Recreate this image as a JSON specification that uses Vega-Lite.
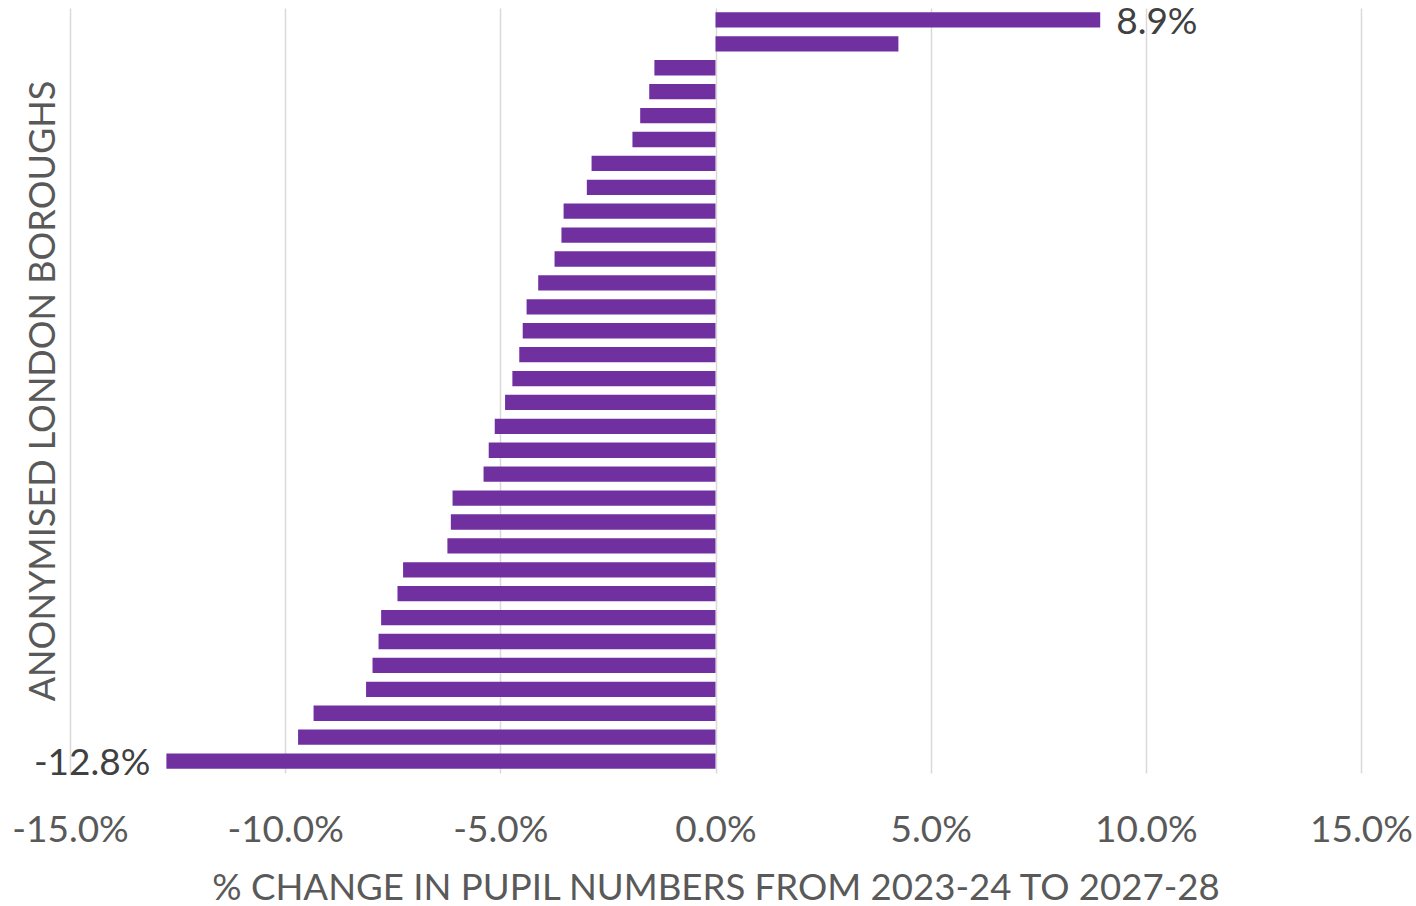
{
  "$schema": "https://vega.github.io/schema/vega-lite/v6.json",
  "width": 1291,
  "height": 765,
  "autosize": {"type": "none"},
  "padding": {"left": 70, "top": 8, "right": 55, "bottom": 133},
  "background": "white",
  "config": {
    "view": {"stroke": null},
    "font": "Lato",
    "locale": {"number": {"decimal": ".", "thousands": ",", "grouping": [3], "currency": ["$", ""], "minus": "-"}}
  },
  "data": {
    "values": [
      {"borough": "B01", "change": 0.0894},
      {"borough": "B02", "change": 0.0425},
      {"borough": "B03", "change": -0.0142},
      {"borough": "B04", "change": -0.0154},
      {"borough": "B05", "change": -0.0175},
      {"borough": "B06", "change": -0.0193},
      {"borough": "B07", "change": -0.0288},
      {"borough": "B08", "change": -0.0299},
      {"borough": "B09", "change": -0.0353},
      {"borough": "B10", "change": -0.0358},
      {"borough": "B11", "change": -0.0374},
      {"borough": "B12", "change": -0.0412},
      {"borough": "B13", "change": -0.0439},
      {"borough": "B14", "change": -0.0448},
      {"borough": "B15", "change": -0.0456},
      {"borough": "B16", "change": -0.0472},
      {"borough": "B17", "change": -0.0489},
      {"borough": "B18", "change": -0.0513},
      {"borough": "B19", "change": -0.0527},
      {"borough": "B20", "change": -0.0539},
      {"borough": "B21", "change": -0.0611},
      {"borough": "B22", "change": -0.0615},
      {"borough": "B23", "change": -0.0623},
      {"borough": "B24", "change": -0.0726},
      {"borough": "B25", "change": -0.0739},
      {"borough": "B26", "change": -0.0777},
      {"borough": "B27", "change": -0.0783},
      {"borough": "B28", "change": -0.0797},
      {"borough": "B29", "change": -0.0812},
      {"borough": "B30", "change": -0.0934},
      {"borough": "B31", "change": -0.0970},
      {"borough": "B32", "change": -0.1276}
    ]
  },
  "encoding": {
    "y": {
      "field": "borough",
      "type": "nominal",
      "sort": null,
      "scale": {"paddingInner": 0.36, "paddingOuter": 0.18},
      "axis": {
        "title": "ANONYMISED LONDON BOROUGHS",
        "labels": false,
        "ticks": false,
        "domain": false,
        "grid": false,
        "titleFont": "Lato",
        "titleFontSize": 36,
        "titleFontWeight": "normal",
        "titleColor": "#595959",
        "titlePadding": 8
      }
    },
    "x": {
      "field": "change",
      "type": "quantitative",
      "scale": {"domain": [-0.15, 0.15], "nice": false, "zero": false},
      "axis": {
        "format": ".1%",
        "values": [-0.15, -0.1, -0.05, 0, 0.05, 0.1, 0.15],
        "grid": true,
        "gridColor": "#d9d9d9",
        "gridWidth": 1.5,
        "domain": false,
        "ticks": false,
        "labelFont": "Lato",
        "labelFontSize": 37,
        "labelColor": "#595959",
        "labelPadding": 39,
        "labelFlush": false,
        "labelOverlap": false,
        "title": "% CHANGE IN PUPIL NUMBERS FROM 2023-24 TO 2027-28",
        "titleFont": "Lato",
        "titleFontSize": 36.6,
        "titleFontWeight": "normal",
        "titleColor": "#595959",
        "titlePadding": 22
      }
    }
  },
  "layer": [
    {"mark": {"type": "bar", "color": "#7030A0"}},
    {
      "transform": [{"filter": "datum.change > 0.08"}],
      "mark": {"type": "text", "align": "left", "baseline": "middle", "dx": 16, "dy": 3, "fontSize": 37, "font": "Lato", "color": "#404040"},
      "encoding": {"text": {"field": "change", "type": "quantitative", "format": ".1%"}}
    },
    {
      "transform": [{"filter": "datum.change < -0.12"}],
      "mark": {"type": "text", "align": "right", "baseline": "middle", "dx": -16, "dy": 3, "fontSize": 37, "font": "Lato", "color": "#404040"},
      "encoding": {"text": {"field": "change", "type": "quantitative", "format": ".1%"}}
    }
  ]
}
